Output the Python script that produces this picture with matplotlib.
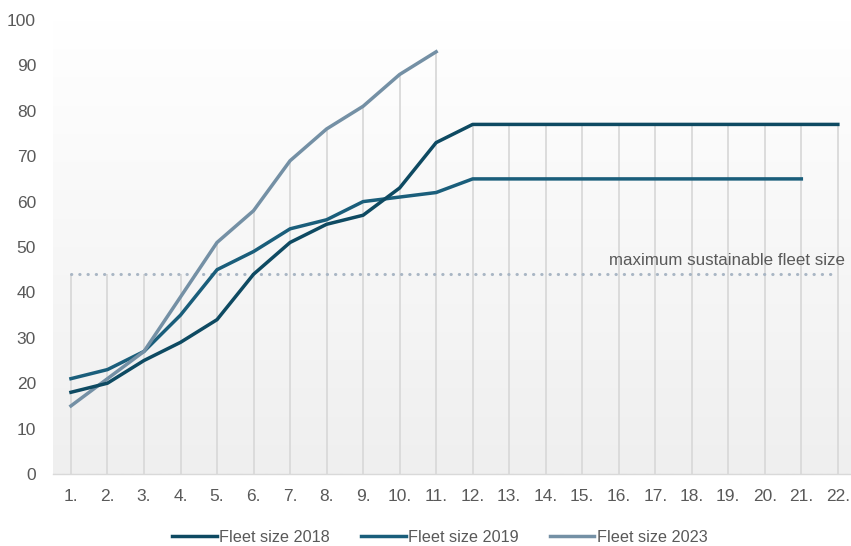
import matplotlib
matplotlib.use("Agg")
from matplotlib import pyplot as plt
import numpy as np

categories = [f"{i}." for i in range(1, 23)]
fleet_2018 = [18, 20, 25, 29, 34, 44, 51, 55, 57, 63, 73, 77, 77, 77, 77, 77, 77, 77, 77, 77, 77, 77]
fleet_2019 = [21, 23, 27, 35, 45, 49, 54, 56, 60, 61, 62, 65, 65, 65, 65, 65, 65, 65, 65, 65, 65]
fleet_2023 = [15, 21, 27, 39, 51, 58, 69, 76, 81, 88, 93]
max_sustainable = [44] * 22
y_ticks = [0, 10, 20, 30, 40, 50, 60, 70, 80, 90, 100]

plt.rcParams['font.family'] = ['Liberation Sans', 'DejaVu Sans']

fig = plt.figure(figsize=(8.51, 5.46), dpi=100)
ax = fig.add_axes([52.7 / 851, 72 / 546, 1 - 52.7 / 851, 454 / 546])

x = np.arange(1, len(categories) + 1)

# background gradient
grad = np.linspace(0, 1, 256).reshape(-1, 1)
ax.imshow(grad, extent=[0.5, 22.36, 0, 100], aspect='auto', origin='upper',
          cmap=matplotlib.colors.LinearSegmentedColormap.from_list('g', ['#ffffff', '#efefef']),
          zorder=0)

# drop lines to highest value at each category
all_series = [fleet_2018, fleet_2019, fleet_2023, max_sustainable]
tops = [max(s[i] for s in all_series if i < len(s)) for i in range(len(categories))]
ax.vlines(x, 0, tops, color='#d9d9d9', lw=1.3, zorder=1)

ax.plot(x, max_sustainable, color='#a9b6c4', lw=2.2, ls=(0, (0.1, 2.6)),
        dash_capstyle='round', zorder=2)
ax.text(22.2, 45.3, "maximum sustainable fleet size", ha='right', va='bottom',
        fontsize=12.2, color='#595959', zorder=5)

l1, = ax.plot(x[:len(fleet_2018)], fleet_2018, color='#0e4a62', lw=2.5, zorder=4,
              solid_joinstyle='round')
l2, = ax.plot(x[:len(fleet_2019)], fleet_2019, color='#1a5e7b', lw=2.5, zorder=3,
              solid_joinstyle='round')
l3, = ax.plot(x[:len(fleet_2023)], fleet_2023, color='#7490a5', lw=2.5, zorder=3,
              solid_joinstyle='round')

ax.set_xlim(0.5, 22.36)
ax.set_ylim(0, 100)
ax.set_xticks(x)
ax.set_xticklabels(categories)
ax.set_yticks(y_ticks)
ax.tick_params(axis='both', length=0, labelsize=12.5, labelcolor='#595959')
ax.tick_params(axis='y', pad=12)
ax.tick_params(axis='x', pad=11)
for side in ['top', 'right', 'left']:
    ax.spines[side].set_visible(False)
ax.spines['bottom'].set_color('#d9d9d9')
ax.spines['bottom'].set_linewidth(1)

fig.legend([l1, l2, l3], ["Fleet size 2018", "Fleet size 2019", "Fleet size 2023"],
           loc='center', bbox_to_anchor=(0.517, 1 - 537 / 546), ncol=3, frameon=False,
           fontsize=11.7, labelcolor='#595959', handlelength=2.75, handletextpad=0.15,
           columnspacing=1.9, borderpad=0)

fig.savefig("out.png", dpi=100)
